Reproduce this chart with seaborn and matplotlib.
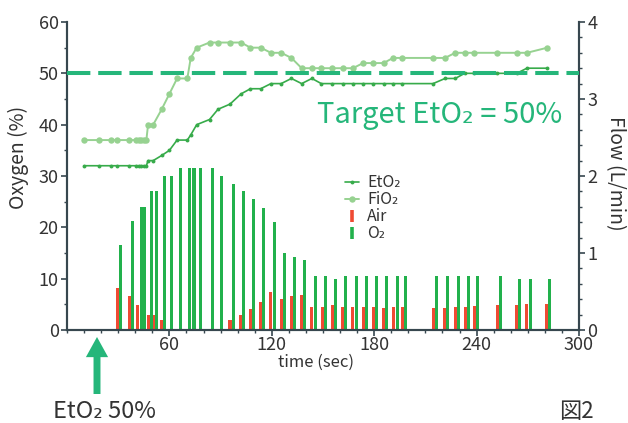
import matplotlib
matplotlib.use("Agg")
import matplotlib.pyplot as plt
import matplotlib.ticker as mticker
from matplotlib.lines import Line2D
import pandas as pd
import seaborn as sns

# Gas concentrations sampled over time (sec, %)
time_s = [10, 18.5, 25.5, 29.5, 36.5, 40.5, 42, 43.5, 45, 46.5,
          47.5, 50.5, 55.5, 60, 64.5, 70.5, 72.5, 76, 83.5, 88.5, 95.5, 102, 107.5, 113.5,
          119.5, 125.5, 131.5, 137.5, 143.5, 149, 155, 161.5, 167.5, 173.5, 179.5, 185.5, 191, 196.5,
          214.5, 221.5, 227.5, 233, 238.5, 252, 263.5, 269.5, 281.5]
eto2 = [32, 32, 32, 32, 32, 32, 32, 32, 32, 32,
        33, 33, 34, 35, 37, 37, 38, 40, 41, 43, 44, 46, 47, 47,
        48, 48, 49, 48, 49, 48, 48, 48, 48, 48, 48, 48, 48, 48,
        48, 49, 49, 50, 50, 50, 50, 51, 51]
fio2 = [37, 37, 37, 37, 37, 37, 37, 37, 37, 37,
        40, 40, 43, 46, 49, 49, 53, 55, 56, 56, 56, 56, 55, 55,
        54, 54, 53, 51, 51, 51, 51, 51, 51, 52, 52, 52, 53, 53,
        53, 53, 54, 54, 54, 54, 54, 54, 55]

# Fresh gas flow delivered at each adjustment (sec, L/min)
flow_t = [29.5, 36.5, 41.5, 43.5, 47.5, 50.5, 55.5, 59.5, 64.5, 70,
          72.5, 76.5, 83.5, 88.5, 95.5, 101.5, 107.5, 113.5, 119.5, 125.5,
          131.5, 137.5, 143.5, 149.5, 155.5, 161.5, 167.5, 173.5, 179.5, 185.5,
          191.5, 196.5, 214.5, 221, 227.5, 233.5, 238.5, 252, 263.5, 269.5, 281]
air_flow = [0.55, 0.44, 0.33, 0, 0.19, 0.19, 0.13, 0, 0, 0,
            0, 0, 0, 0, 0.13, 0.19, 0.27, 0.37, 0.50, 0.40,
            0.44, 0.45, 0.30, 0.30, 0.33, 0.30, 0.30, 0.30, 0.30, 0.29,
            0.30, 0.30, 0.29, 0.29, 0.30, 0.30, 0.31, 0.33, 0.33, 0.34, 0.34]
o2_flow = [1.10, 1.41, 1.60, 1.60, 1.80, 1.80, 2.00, 2.00, 2.10, 2.10,
           2.10, 2.10, 2.10, 2.00, 1.90, 1.80, 1.70, 1.59, 1.40, 1.00,
           0.95, 0.91, 0.70, 0.70, 0.66, 0.70, 0.70, 0.70, 0.70, 0.70,
           0.70, 0.70, 0.70, 0.70, 0.70, 0.70, 0.70, 0.70, 0.66, 0.66, 0.66]

target_eto2 = 50
x_ticks = [60, 120, 180, 240, 300]

C_ETO2 = "#37ab4a"
C_FIO2 = "#97d291"
C_AIR = "#ef4a33"
C_O2 = "#22b14c"
C_TARGET = "#25b67a"
C_AXIS = "#37474f"
C_TEXT = "#333333"

sns.set_theme(style="ticks")
plt.rcParams["font.family"] = ["Noto Sans CJK JP", "DejaVu Sans"]

W, H = 628, 423
fig = plt.figure(figsize=(W / 100, H / 100), dpi=100)
ax = fig.add_axes([67 / W, 1 - 330 / H, (579 - 67) / W, (330 - 22) / H])
ax2 = ax.twinx()

gas = pd.DataFrame({"t": time_s, "EtO2": eto2, "FiO2": fio2})

# flow bars on the right axis
bw = 1.8
ax2.bar([t for t in flow_t], air_flow, width=bw, color=C_AIR, linewidth=0, align="center")
ax2.bar([t + bw + 0.1 for t in flow_t], o2_flow, width=bw, color=C_O2, linewidth=0, align="center")

# concentration lines on the left axis
sns.lineplot(data=gas, x="t", y="FiO2", ax=ax, color=C_FIO2, lw=1.4,
             marker="o", markersize=4.6, markeredgewidth=0, zorder=3)
sns.lineplot(data=gas, x="t", y="EtO2", ax=ax, color=C_ETO2, lw=1.2,
             marker="o", markersize=2.8, markeredgewidth=0, zorder=3)
ax.axhline(target_eto2, color=C_TARGET, lw=2.9, dashes=(5.8, 1.95), zorder=4)

ax.set_zorder(ax2.get_zorder() + 1)
ax.patch.set_visible(False)

ax.set_xlim(0, 300)
ax.set_ylim(0, 60)
ax2.set_ylim(0, 4)
ax.set_xlabel("")
ax.set_ylabel("")
ax2.set_ylabel("")

ax.xaxis.set_major_locator(mticker.FixedLocator(x_ticks))
ax.xaxis.set_minor_locator(mticker.MultipleLocator(10))
ax.yaxis.set_major_locator(mticker.MultipleLocator(10))
ax.yaxis.set_minor_locator(mticker.MultipleLocator(5))
ax2.yaxis.set_major_locator(mticker.MultipleLocator(1))
ax2.yaxis.set_minor_locator(mticker.MultipleLocator(0.2))

for a in (ax, ax2):
    for s in a.spines.values():
        s.set_color(C_AXIS)
        s.set_linewidth(1.5)
    a.spines["top"].set_visible(False)
    a.tick_params(which="major", length=4, width=1.2, color=C_AXIS,
                  labelsize=13, labelcolor=C_TEXT, pad=2)
    a.tick_params(which="minor", length=2.5, width=1.0, color=C_AXIS)
ax.tick_params(axis="x", which="major", pad=0)

ax.yaxis.set_major_formatter(mticker.FormatStrFormatter("%d"))
ax2.yaxis.set_major_formatter(mticker.FormatStrFormatter("%d"))
ax.grid(False)
ax2.grid(False)

handles = [
    Line2D([], [], color=C_ETO2, lw=1.2, marker="o", markersize=2.8, markeredgewidth=0),
    Line2D([], [], color=C_FIO2, lw=1.4, marker="o", markersize=4.6, markeredgewidth=0),
    Line2D([], [], color=C_AIR, linestyle="None", marker="|", markersize=8, markeredgewidth=2.6),
    Line2D([], [], color=C_O2, linestyle="None", marker="|", markersize=8, markeredgewidth=2.6),
]
leg = ax.legend(handles, ["EtO₂", "FiO₂", "Air", "O₂"], loc="upper left",
                bbox_to_anchor=(0.543, 0.505), frameon=False, fontsize=11.5,
                labelspacing=0.0, handlelength=0.9, handletextpad=0.5,
                borderpad=0, borderaxespad=0)
for t in leg.get_texts():
    t.set_color(C_TEXT)

fig.text(440 / W, 1 - 123.5 / H, "Target EtO₂ = 50%", color=C_TARGET,
         fontsize=21, ha="center", va="baseline")
fig.text(18 / W, 1 - 157 / H, "Oxygen (%)", rotation=90, fontsize=14,
         color=C_TEXT, ha="center", va="center")
fig.text(615 / W, 1 - 173 / H, "Flow (L/min)", rotation=270, fontsize=14,
         color=C_TEXT, ha="center", va="center")
fig.text(316 / W, 1 - 362 / H, "time (sec)", fontsize=12,
         color=C_TEXT, ha="center", va="center")

fig.text(53 / W, 1 - 418 / H, "EtO₂ 50%", fontsize=17, color=C_TEXT,
         ha="left", va="baseline")
fig.text(594 / W, 1 - 418 / H, "図2", fontsize=16, color=C_TEXT,
         ha="right", va="baseline")

ax.annotate("", xy=(97 / W, 1 - 337 / H), xycoords="figure fraction",
            xytext=(97 / W, 1 - 394 / H), textcoords="figure fraction",
            arrowprops=dict(arrowstyle="simple,head_length=1.45,head_width=1.6,tail_width=0.5",
                            mutation_scale=10, color=C_TARGET, lw=0,
                            shrinkA=0, shrinkB=0))

fig.savefig("out.png", dpi=100)
